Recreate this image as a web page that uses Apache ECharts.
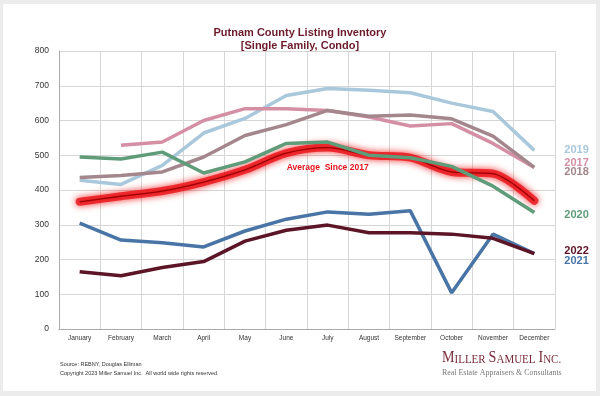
<!DOCTYPE html>
<html>
<head>
<meta charset="utf-8">
<script src="https://cdn.jsdelivr.net/npm/echarts@6/dist/echarts.min.js"></script>
<style>
  html, body { margin: 0; padding: 0; background: #ececec; }
  #chart { width: 600px; height: 396px; }
</style>
</head>
<body>
<div id="chart"></div>
<script>
const months = ['January', 'February', 'March', 'April', 'May', 'June', 'July', 'August', 'September', 'October', 'November', 'December'];
const yTicks = [0, 100, 200, 300, 400, 500, 600, 700, 800];

const y2017 = [null, 529, 538, 600, 634, 634, 629, 610, 584, 591, 534, 465];
const y2018 = [436, 442, 452, 495, 557, 588, 629, 612, 616, 605, 555, 465];
const y2019 = [428, 416, 471, 564, 606, 672, 692, 687, 680, 650, 626, 514];
const y2020 = [495, 489, 509, 449, 481, 534, 538, 500, 493, 468, 411, 335];
const y2021 = [305, 256, 248, 236, 282, 316, 337, 330, 340, 104, 273, 217];
const y2022 = [165, 153, 177, 194, 253, 284, 299, 277, 277, 273, 261, 217];
const avgSince2017 = [366, 382, 397, 423, 458, 506, 522, 500, 493, 452, 447, 369];

const chart = echarts.init(document.getElementById('chart'));

// one plain line per year, with the year written at its end
function yearLine(name, data, color, offset, width) {
  return {
    name: name,
    type: 'line',
    data: data,
    symbol: 'none',
    z: 5,
    lineStyle: { color: color, width: width || 3.5 },
    endLabel: {
      show: true,
      formatter: name,
      color: color,
      fontFamily: 'Liberation Sans',
      fontWeight: 'bold',
      fontSize: 11,
      offset: offset
    }
  };
}

const option = {
  backgroundColor: '#ececec',
  animation: false,
  graphic: [
    { type: 'rect', left: 3, top: 4, shape: { width: 593, height: 387 }, style: { fill: '#ffffff' }, z: -10 },
    {
      type: 'text', left: 60, top: 361,
      style: { text: 'Source: REBNY, Douglas Elliman', font: '5.5px "Liberation Sans"', fill: '#333' }
    },
    {
      type: 'text', left: 60, top: 370,
      style: { text: 'Copyright 2023 Miller Samuel Inc.  All world wide rights reserved.', font: '5.5px "Liberation Sans"', fill: '#333' }
    },
    {
      type: 'text', x: 442, y: 350, scaleX: 0.88,
      style: {
        text: '{a|M}{b|ILLER} {a|S}{b|AMUEL} {a|I}{b|NC.}',
        rich: {
          a: { fontFamily: 'Liberation Serif', fontSize: 16, fill: '#7a2d3a', color: '#7a2d3a' },
          b: { fontFamily: 'Liberation Serif', fontSize: 12.5, fill: '#7a2d3a', color: '#7a2d3a', verticalAlign: 'bottom' }
        }
      }
    },
    {
      type: 'text', x: 442, y: 368, scaleX: 0.88,
      style: { text: 'Real Estate Appraisers & Consultants', font: '9px "Liberation Serif"', fill: '#777' }
    }
  ],
  title: {
    text: 'Putnam County Listing Inventory\n[Single Family, Condo]',
    left: 'center',
    top: 21,
    textStyle: {
      color: '#6b1a2a',
      fontFamily: 'Liberation Sans',
      fontWeight: 'bold',
      fontSize: 11,
      lineHeight: 13
    }
  },
  grid: { left: 59, right: 45, top: 51, bottom: 67 },
  xAxis: {
    type: 'category',
    data: months,
    boundaryGap: true,
    axisLine: { lineStyle: { color: '#aaa' } },
    axisTick: { show: false },
    axisLabel: { color: '#333', fontSize: 6.5, fontFamily: 'Liberation Sans', margin: 6, interval: 0 },
    splitLine: { show: true, lineStyle: { color: '#d6d6d6' } }
  },
  yAxis: {
    type: 'value',
    min: yTicks[0],
    max: yTicks[yTicks.length - 1],
    interval: 100,
    axisLine: { show: true, lineStyle: { color: '#aaa' } },
    axisTick: { show: false },
    axisLabel: { color: '#333', fontSize: 8.5, fontFamily: 'Liberation Sans', margin: 10 },
    splitLine: { lineStyle: { color: '#d6d6d6' } }
  },
  series: [
    yearLine('2019', y2019, '#a9c8dc', [22, 0]),
    yearLine('2017', y2017, '#d58fa5', [22, -4]),
    yearLine('2018', y2018, '#a3878c', [22, 5]),
    yearLine('2020', y2020, '#5f9c7a', [22, 2]),
    yearLine('2021', y2021, '#4874a6', [22, 7]),
    yearLine('2022', y2022, '#5c1526', [22, -3]),
    {
      name: 'glow',
      type: 'line',
      data: avgSince2017,
      smooth: 0.3,
      symbol: 'none',
      z: 3,
      lineStyle: {
        color: 'rgba(232,18,24,0.8)',
        width: 8,
        shadowBlur: 7,
        shadowColor: 'rgba(240,0,0,1)',
        cap: 'round'
      }
    },
    {
      name: 'Average  Since 2017',
      type: 'line',
      data: avgSince2017,
      smooth: 0.3,
      symbol: 'none',
      z: 4,
      lineStyle: { color: '#9a0000', width: 1.3 },
      markPoint: {
        symbol: 'circle',
        symbolSize: 1,
        itemStyle: { color: 'rgba(0,0,0,0)' },
        data: [{ coord: ['July', 465] }],
        label: {
          show: true,
          position: 'inside',
          formatter: 'Average  Since 2017',
          color: '#e3141c',
          fontFamily: 'Liberation Sans',
          fontWeight: 'bold',
          fontSize: 8.5
        }
      }
    }
  ]
};

chart.setOption(option);
</script>
</body>
</html>
